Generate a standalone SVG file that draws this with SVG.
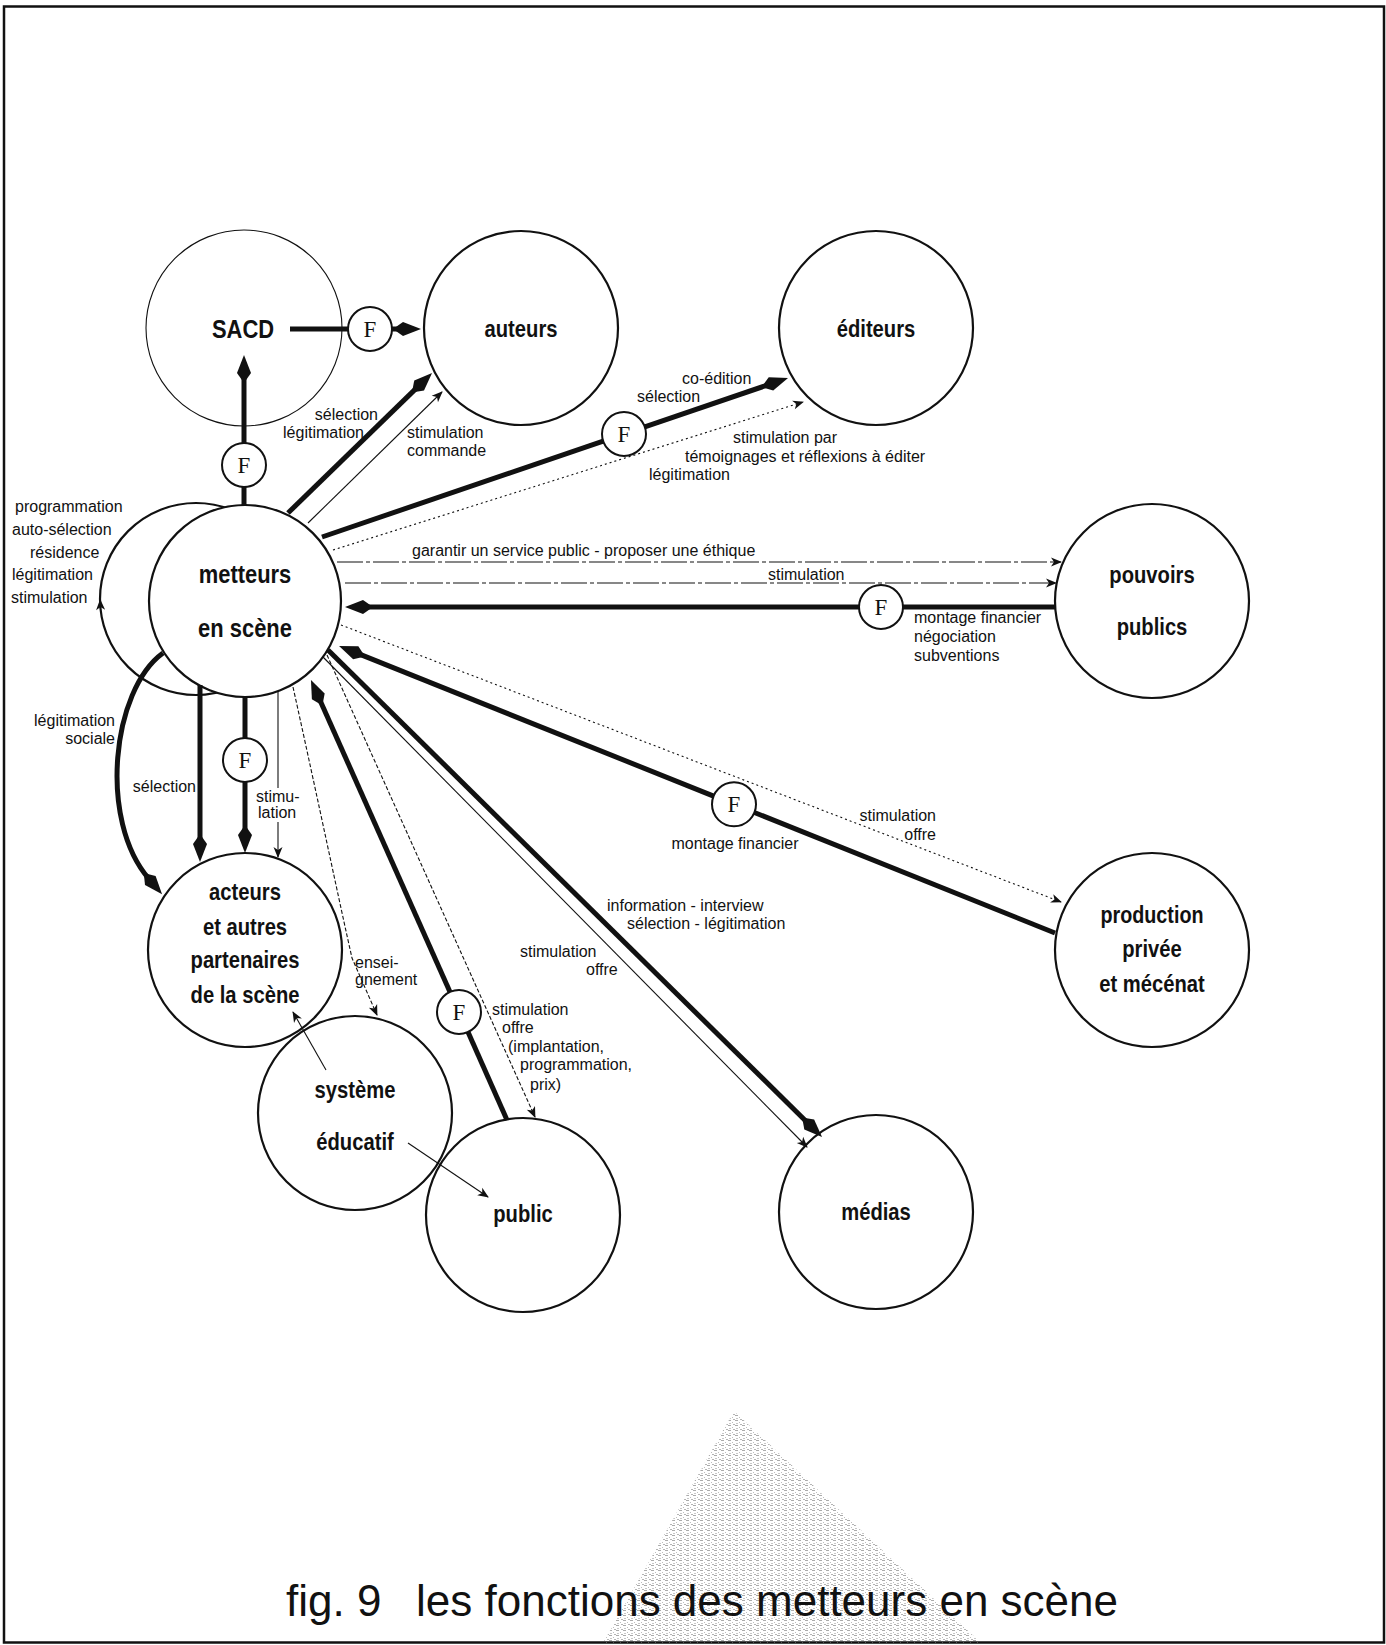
<svg xmlns="http://www.w3.org/2000/svg" width="1386" height="1645" viewBox="0 0 1386 1645">
<style>
.n{font-family:"Liberation Sans",Arial,sans-serif;font-weight:bold;font-size:23.5px;text-anchor:middle;fill:#111}
.big{font-size:25.5px}
.l{font-family:"Liberation Sans",Arial,sans-serif;font-size:16px;fill:#111}
.e{text-anchor:end}
.m{text-anchor:middle}
.f{font-family:"Liberation Serif","Times New Roman",serif;font-size:23px;text-anchor:middle;fill:#111}
.c{fill:none;stroke:#111;stroke-width:2.2}
.fc{fill:#fff;stroke:#111;stroke-width:2}
.k{fill:none;stroke:#111;stroke-width:5}
.t{fill:none;stroke:#111;stroke-width:1.1}
.dot{stroke-dasharray:2 3}
.dd{stroke-dasharray:26 3 4 3}
.ds{stroke-dasharray:4 2}
</style>
<defs>
<marker id="d" markerUnits="userSpaceOnUse" markerWidth="40" markerHeight="20" viewBox="-10 -10 40 20" refX="0" refY="0" orient="auto" overflow="visible">
<path d="M20,0 L2,-7 L-8,0 L2,7 Z" fill="#111"/>
</marker>
<marker id="a" markerUnits="userSpaceOnUse" markerWidth="16" markerHeight="12" viewBox="-12 -6 16 12" refX="0" refY="0" orient="auto" overflow="visible">
<path d="M1,0 L-10,-4.5 L-7,0 L-10,4.5 Z" fill="#111"/>
</marker>
<pattern id="ht" width="7" height="5" patternUnits="userSpaceOnUse">
<rect x="0" y="0" width="3" height="1" fill="#666"/>
<rect x="4" y="2" width="1" height="1" fill="#888"/>
<rect x="1" y="3" width="2" height="1" fill="#999"/>
<rect x="5" y="4" width="2" height="1" fill="#777"/>
</pattern>
</defs>
<rect x="0" y="0" width="1386" height="1645" fill="#fff"/>
<rect x="4" y="6.5" width="1380" height="1636" fill="none" stroke="#111" stroke-width="2.5"/>
<polygon points="734,1411 603,1643 981,1643" fill="url(#ht)" opacity="0.55"/>

<g id="metteurs">
<circle cx="196" cy="599" r="96" class="c" stroke-width="1.6"/>
<circle cx="245" cy="601" r="96" fill="#fff" stroke="#111" stroke-width="2.2"/>
<text class="n big" transform="translate(245,583) scale(0.86,1)">metteurs</text>
<text class="n big" transform="translate(245,637) scale(0.86,1)">en scène</text>
</g>
<g id="sacd">
<circle cx="244" cy="328" r="98" fill="none" stroke="#111" stroke-width="1.1"/>
<text class="n big" transform="translate(243,338) scale(0.86,1)">SACD</text>
</g>
<g id="auteurs">
<circle cx="521" cy="328" r="97" class="c"/>
<text class="n" transform="translate(521,337) scale(0.86,1)">auteurs</text>
</g>
<g id="editeurs">
<circle cx="876" cy="328" r="97" class="c"/>
<text class="n" transform="translate(876,337) scale(0.86,1)">éditeurs</text>
</g>
<g id="pouvoirs">
<circle cx="1152" cy="601" r="97" class="c"/>
<text class="n" transform="translate(1152,583) scale(0.86,1)">pouvoirs</text>
<text class="n" transform="translate(1152,635) scale(0.86,1)">publics</text>
</g>
<g id="production">
<circle cx="1152" cy="950" r="97" class="c"/>
<text class="n" transform="translate(1152,923) scale(0.84,1)">production</text>
<text class="n" transform="translate(1152,957) scale(0.86,1)">privée</text>
<text class="n" transform="translate(1152,992) scale(0.86,1)">et mécénat</text>
</g>
<g id="acteurs">
<circle cx="245" cy="950" r="97" class="c"/>
<text class="n" transform="translate(245,900) scale(0.86,1)">acteurs</text>
<text class="n" transform="translate(245,935) scale(0.86,1)">et autres</text>
<text class="n" transform="translate(245,968) scale(0.86,1)">partenaires</text>
<text class="n" transform="translate(245,1003) scale(0.86,1)">de la scène</text>
</g>
<g id="systeme">
<circle cx="355" cy="1113" r="97" class="c"/>
<text class="n" transform="translate(355,1098) scale(0.86,1)">système</text>
<text class="n" transform="translate(355,1150) scale(0.86,1)">éducatif</text>
</g>
<g id="public">
<circle cx="523" cy="1215" r="97" class="c"/>
<text class="n" transform="translate(523,1222) scale(0.86,1)">public</text>
</g>
<g id="medias">
<circle cx="876" cy="1212" r="97" class="c"/>
<text class="n" transform="translate(876,1220) scale(0.86,1)">médias</text>
</g>

<g id="connectors">
<line x1="290" y1="329" x2="348" y2="329" class="k"/>
<line x1="392" y1="329" x2="401" y2="329" class="k" marker-end="url(#d)"/>
<line x1="244" y1="505" x2="244" y2="487" class="k"/>
<line x1="244" y1="443" x2="244" y2="375" class="k" marker-end="url(#d)"/>
<line x1="288" y1="513" x2="417.7" y2="386.9" class="k" marker-end="url(#d)"/>
<line x1="322" y1="537" x2="603.2" y2="441.1" class="k"/>
<line x1="644.8" y1="426.9" x2="769.1" y2="384.5" class="k" marker-end="url(#d)"/>
<line x1="1055" y1="607" x2="903" y2="607" class="k"/>
<line x1="859" y1="607" x2="365" y2="607" class="k" marker-end="url(#d)"/>
<line x1="1055" y1="933" x2="754.4" y2="812.5" class="k"/>
<line x1="713.6" y1="796.1" x2="357.6" y2="653.4" class="k" marker-end="url(#d)"/>
<line x1="328" y1="650" x2="807.8" y2="1123" class="k" marker-end="url(#d)"/>
<line x1="507" y1="1120" x2="468" y2="1032" class="k"/>
<line x1="450" y1="991.9" x2="319.1" y2="698.3" class="k" marker-end="url(#d)"/>
<path d="M163,653 C112,690 98,820 149,879" class="k" marker-end="url(#d)"/>
<line x1="200" y1="685" x2="200" y2="842" class="k" marker-end="url(#d)"/>
<line x1="245" y1="697" x2="245" y2="738" class="k"/>
<line x1="245" y1="782" x2="245" y2="833" class="k" marker-end="url(#d)"/>

<line x1="308" y1="523" x2="442" y2="392" class="t" marker-end="url(#a)"/>
<line x1="333" y1="550" x2="803" y2="402" class="t dot" marker-end="url(#a)"/>
<line x1="337" y1="562" x2="1061" y2="562" class="t dd" marker-end="url(#a)"/>
<line x1="345" y1="583" x2="1056" y2="583" class="t dd" marker-end="url(#a)"/>
<line x1="341" y1="625" x2="1061" y2="902" class="t dot" marker-end="url(#a)"/>
<line x1="323" y1="657" x2="807" y2="1147" class="t" marker-end="url(#a)"/>
<line x1="327" y1="655" x2="535" y2="1117" class="t ds" marker-end="url(#a)"/>
<path d="M293,687 C318,800 340,905 352,958 L377,1015" class="t ds" marker-end="url(#a)"/>
<line x1="326" y1="1070" x2="293" y2="1012" class="t" marker-end="url(#a)"/>
<line x1="408" y1="1143" x2="488" y2="1197" class="t" marker-end="url(#a)"/>
<line x1="278" y1="691" x2="278" y2="788" class="t"/>
<line x1="278" y1="822" x2="278" y2="857" class="t" marker-end="url(#a)"/>
<path d="M100.6,610 L100.2,600" class="t" marker-end="url(#a)"/>
</g>

<g id="f-sacd"><circle cx="370" cy="329" r="22" class="fc"/><text x="370" y="337" class="f">F</text></g>
<g id="f-vert"><circle cx="244" cy="465" r="22" class="fc"/><text x="244" y="473" class="f">F</text></g>
<g id="f-editeurs"><circle cx="624" cy="434" r="22" class="fc"/><text x="624" y="442" class="f">F</text></g>
<g id="f-pouvoirs"><circle cx="881" cy="607" r="22" class="fc"/><text x="881" y="615" class="f">F</text></g>
<g id="f-production"><circle cx="734" cy="804.3" r="22" class="fc"/><text x="734" y="812" class="f">F</text></g>
<g id="f-acteurs"><circle cx="245" cy="760" r="22" class="fc"/><text x="245" y="768" class="f">F</text></g>
<g id="f-public"><circle cx="459" cy="1012" r="22" class="fc"/><text x="459" y="1020" class="f">F</text></g>

<g id="labels">
<text x="15" y="512" class="l">programmation</text>
<text x="12" y="535" class="l">auto-sélection</text>
<text x="30" y="558" class="l">résidence</text>
<text x="12" y="580" class="l">légitimation</text>
<text x="11" y="603" class="l">stimulation</text>
<text x="378" y="420" class="l e">sélection</text>
<text x="364" y="438" class="l e">légitimation</text>
<text x="407" y="438" class="l">stimulation</text>
<text x="407" y="456" class="l">commande</text>
<text x="682" y="384" class="l">co-édition</text>
<text x="637" y="402" class="l">sélection</text>
<text x="733" y="443" class="l">stimulation par</text>
<text x="685" y="462" class="l">témoignages et réflexions à éditer</text>
<text x="649" y="480" class="l">légitimation</text>
<text x="412" y="556" class="l">garantir un service public - proposer une éthique</text>
<text x="768" y="580" class="l">stimulation</text>
<text x="914" y="623" class="l">montage financier</text>
<text x="914" y="642" class="l">négociation</text>
<text x="914" y="661" class="l">subventions</text>
<text x="735" y="849" class="l m">montage financier</text>
<text x="936" y="821" class="l e">stimulation</text>
<text x="936" y="840" class="l e">offre</text>
<text x="607" y="911" class="l">information - interview</text>
<text x="627" y="929" class="l">sélection - légitimation</text>
<text x="520" y="957" class="l">stimulation</text>
<text x="586" y="975" class="l">offre</text>
<text x="492" y="1015" class="l">stimulation</text>
<text x="502" y="1033" class="l">offre</text>
<text x="508" y="1052" class="l">(implantation,</text>
<text x="520" y="1070" class="l">programmation,</text>
<text x="530" y="1090" class="l">prix)</text>
<text x="355" y="968" class="l">ensei-</text>
<text x="355" y="985" class="l">gnement</text>
<text x="115" y="726" class="l e">légitimation</text>
<text x="115" y="744" class="l e">sociale</text>
<text x="196" y="792" class="l e">sélection</text>
<text x="256" y="802" class="l">stimu-</text>
<text x="258" y="818" class="l">lation</text>
</g>

<g id="title">
<text x="286" y="1616" font-family="Liberation Sans, Arial, sans-serif" font-size="44" fill="#111">fig. 9</text>
<text x="1118" y="1616" font-family="Liberation Sans, Arial, sans-serif" font-size="44" fill="#111" text-anchor="end">les fonctions des metteurs en scène</text>
</g>
</svg>
